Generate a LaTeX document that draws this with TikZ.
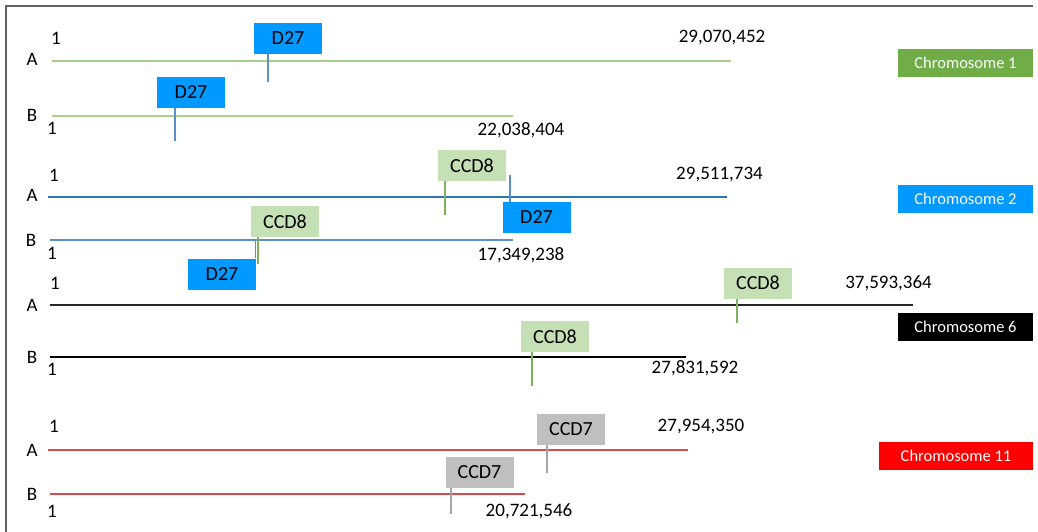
\documentclass[tikz,border=0pt]{standalone}
\usepackage{fontspec}
\setmainfont{Carlito}
\definecolor{lgreen}{HTML}{A9D18E}
\definecolor{boxgreen}{HTML}{C5E0B4}
\definecolor{legreen}{HTML}{70AD47}
\definecolor{tickgreen}{HTML}{7FB25A}
\definecolor{dblue}{HTML}{0099FF}
\definecolor{lblue}{HTML}{2E75B6}
\definecolor{tickblue}{HTML}{5B8FC8}
\definecolor{lred}{HTML}{DC4B4B}
\definecolor{boxgray}{HTML}{BFBFBF}
\definecolor{tickgray}{HTML}{A6A6A6}
\tikzset{
  chrline/.style={line width=2pt},
  tickline/.style={line width=1.5pt},
  genebox/.style={inner sep=0pt, minimum width=68pt, minimum height=31pt,
    font=\fontsize{20}{22}\selectfont},
  legendbox/.style={inner sep=0pt, minimum width=135pt, minimum height=28pt,
    text=white, font=\fontsize{16.5}{18}\selectfont},
  lbl/.style={inner sep=0pt, font=\fontsize{19}{21}\selectfont}
}
\begin{document}
\begin{tikzpicture}[x=1pt,y=-1pt]
\useasboundingbox (0,0) rectangle (1038,532);
\draw[gray!75!black, line width=2pt] (6,532) -- (6,6) -- (1033,6);

% chromosome 1
\coordinate (c1a0) at (52,61);  \coordinate (c1a1) at (731,61);
\coordinate (c1b0) at (52,116); \coordinate (c1b1) at (513,116);
\draw[chrline, lgreen] (c1a0) -- (c1a1);
\draw[chrline, lgreen] (c1b0) -- (c1b1);
\node[lbl] (c1aA) at (32,59) {A};
\node[lbl] (c1bB) at (32,115) {B};
\node[lbl] (c1as) at (56,38) {1};
\node[lbl] (c1bs) at (52,128) {1};
\node[lbl] (c1ae) at (722,38) {29,070,452};
\node[lbl] (c1be) at (521,130) {22,038,404};
\node[genebox, fill=dblue] (d1a) at (288,38.5) {D27};
\node[genebox, fill=dblue] (d1b) at (191,92.5) {D27};
\coordinate (t1a) at (268,82);
\coordinate (t1b) at (175,141);
\draw[tickline, tickblue] (t1a |- d1a.south) -- (t1a);
\draw[tickline, tickblue] (t1b |- d1b.south) -- (t1b);
\node[legendbox, fill=legreen] (leg1) at (965.5,63) {Chromosome 1};

% chromosome 2
\coordinate (c2a0) at (48,197); \coordinate (c2a1) at (727,197);
\coordinate (c2b0) at (50,240); \coordinate (c2b1) at (513,240);
\draw[chrline, lblue] (c2a0) -- (c2a1);
\draw[chrline, tickblue] (c2b0) -- (c2b1);
\node[lbl] (c2aA) at (32,195) {A};
\node[lbl] (c2bB) at (31,240) {B};
\node[lbl] (c2as) at (54,175) {1};
\node[lbl] (c2bs) at (52,253) {1};
\node[lbl] (c2ae) at (719.5,175) {29,511,734};
\node[lbl] (c2be) at (521,255) {17,349,238};
\node[genebox, fill=boxgreen] (g2a) at (472,165.5) {CCD8};
\node[genebox, fill=dblue] (d2a) at (536.5,217.5) {D27};
\node[genebox, fill=boxgreen] (g2b) at (285,221.5) {CCD8};
\node[genebox, fill=dblue] (d2b) at (222,274) {D27};
\coordinate (t2a) at (445,215);
\coordinate (u2a) at (510,175);
\coordinate (t2b) at (258,264);
\coordinate (u2b) at (255.5,240);
\draw[tickline, tickgreen] (t2a |- g2a.south) -- (t2a);
\draw[tickline, tickblue] (u2a) -- (u2a |- d2a.north);
\draw[tickline, tickblue] (u2b |- d2b.north) -- (u2b);
\draw[tickline, tickgreen] (t2b |- g2b.south) -- (t2b);
\node[legendbox, fill=dblue] (leg2) at (965.5,199) {Chromosome 2};

% chromosome 6
\coordinate (c6a0) at (50,305); \coordinate (c6a1) at (913,305);
\coordinate (c6b0) at (50,357); \coordinate (c6b1) at (686,357);
\draw[chrline, black!85] (c6a0) -- (c6a1);
\draw[chrline, black] (c6b0) -- (c6b1);
\node[lbl] (c6aA) at (32,305) {A};
\node[lbl] (c6bB) at (32,357) {B};
\node[lbl] (c6as) at (55,283) {1};
\node[lbl] (c6bs) at (52,369) {1};
\node[lbl] (c6ae) at (888.5,283) {37,593,364};
\node[lbl] (c6be) at (695,368) {27,831,592};
\node[genebox, fill=boxgreen] (g6a) at (758,283) {CCD8};
\node[genebox, fill=boxgreen] (g6b) at (555,336.5) {CCD8};
\coordinate (t6a) at (737,323);
\coordinate (t6b) at (532,386);
\draw[tickline, tickgreen] (t6a |- g6a.south) -- (t6a);
\draw[tickline, tickgreen] (t6b |- g6b.south) -- (t6b);
\node[legendbox, fill=black] (leg6) at (965.5,327) {Chromosome 6};

% chromosome 11
\coordinate (c11a0) at (48,450); \coordinate (c11a1) at (688,450);
\coordinate (c11b0) at (50,494); \coordinate (c11b1) at (525,494);
\draw[chrline, lred] (c11a0) -- (c11a1);
\draw[chrline, lred] (c11b0) -- (c11b1);
\node[lbl] (c11aA) at (32,450) {A};
\node[lbl] (c11bB) at (32,494) {B};
\node[lbl] (c11as) at (54,426) {1};
\node[lbl] (c11bs) at (52,511) {1};
\node[lbl] (c11ae) at (701,427) {27,954,350};
\node[lbl] (c11be) at (529,511) {20,721,546};
\node[genebox, fill=boxgray] (g11a) at (571,429.5) {CCD7};
\node[genebox, fill=boxgray] (g11b) at (479.5,472.5) {CCD7};
\coordinate (t11a) at (547,473);
\coordinate (t11b) at (451,514);
\draw[tickline, tickgray] (t11a |- g11a.south) -- (t11a);
\draw[tickline, tickgray] (t11b |- g11b.south) -- (t11b);
\node[legendbox, fill=red, minimum width=154pt] (leg11) at (956,456) {Chromosome 11};
\end{tikzpicture}
\end{document}
